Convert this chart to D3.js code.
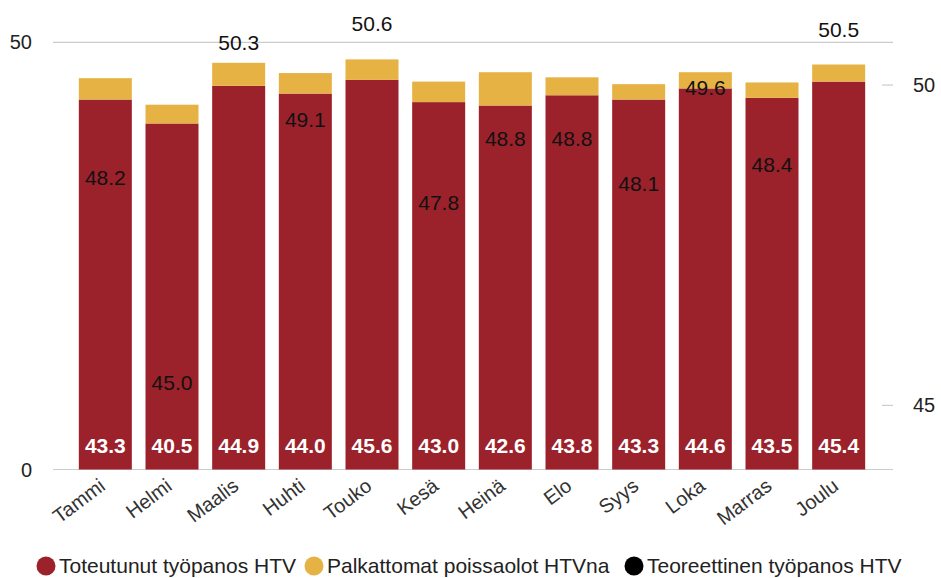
<!DOCTYPE html>
<html><head><meta charset="utf-8">
<script src="https://cdn.jsdelivr.net/npm/d3@7/dist/d3.min.js"></script>
<style>
html,body{margin:0;padding:0;background:#fff;}
svg{display:block;font-family:"Liberation Sans",Arial,sans-serif;}
</style></head>
<body>
<svg id="chart" width="941" height="578"></svg>
<script>
const months = ["Tammi","Helmi","Maalis","Huhti","Touko","Kesä","Heinä","Elo","Syys","Loka","Marras","Joulu"];
const toteutunut = [43.3,40.5,44.9,44.0,45.6,43.0,42.6,43.8,43.3,44.6,43.5,45.4];
const palkattomat = [2.5,2.2,2.7,2.4,2.4,2.4,3.9,2.1,1.8,1.9,1.8,2.0];
const teoreettinen = [48.2,45.0,50.3,49.1,50.6,47.8,48.8,48.8,48.1,49.6,48.4,50.5];
const leftTicks = [0,50];
const rightTicks = [45,50];
const seriesNames = ["Toteutunut työpanos HTV","Palkattomat poissaolot HTVna","Teoreettinen työpanos HTV"];
const colors = ["#9b212b","#e7b244","#000000"];

const svg = d3.select("#chart");
const plotL = 53, plotR = 893, yBottom = 469.5, yTop = 42.3;
const x = d3.scaleBand().domain(months).range([72, 872]).paddingInner(0.205).paddingOuter(0.1025);
const y = d3.scaleLinear().domain([0,50]).range([yBottom, yTop]);
const y2 = d3.scaleLinear().domain([44, 50.667]).range([yBottom, yTop]);

// gridlines (left axis)
svg.append("g").selectAll("line").data(leftTicks).join("line")
  .attr("x1", plotL).attr("x2", plotR)
  .attr("y1", d => y(d)).attr("y2", d => y(d))
  .attr("stroke", "#cccccc").attr("stroke-width", 1.2);

// left axis labels
svg.append("g").selectAll("text").data(leftTicks).join("text")
  .attr("x", 32).attr("y", d => y(d)).attr("dy", "0.35em")
  .attr("text-anchor", "end").attr("font-size", 20).attr("fill", "#222")
  .text(d => d);

// right axis
const ra = svg.append("g");
ra.selectAll("line").data(rightTicks).join("line")
  .attr("x1", 882).attr("x2", 893)
  .attr("y1", d => y2(d)).attr("y2", d => y2(d))
  .attr("stroke", "#cccccc").attr("stroke-width", 1.2);
ra.selectAll("text").data(rightTicks).join("text")
  .attr("x", 913).attr("y", d => y2(d)).attr("dy", "0.35em")
  .attr("text-anchor", "start").attr("font-size", 20).attr("fill", "#222")
  .text(d => d);

// stacked bars
const stackData = months.map((m,i) => ({m, a: toteutunut[i], b: palkattomat[i]}));
const stack = d3.stack().keys(["a","b"])(stackData);
svg.append("g").selectAll("g").data(stack).join("g")
  .attr("fill", (d,i) => colors[i])
  .selectAll("rect").data(d => d).join("rect")
  .attr("x", d => x(d.data.m)).attr("width", x.bandwidth())
  .attr("y", d => y(d[1])).attr("height", d => y(d[0]) - y(d[1]));

// white labels at bar bottoms
svg.append("g").selectAll("text").data(stackData).join("text")
  .attr("x", d => x(d.m) + x.bandwidth()/2).attr("y", yBottom - 24)
  .attr("dy", "0.35em").attr("text-anchor", "middle")
  .attr("font-size", 21).attr("font-weight", "bold").attr("fill", "#fff")
  .text(d => d.a.toFixed(1));

// theoretical series labels (right axis)
svg.append("g").selectAll("text").data(teoreettinen).join("text")
  .attr("x", (d,i) => x(months[i]) + x.bandwidth()/2).attr("y", d => y2(d) - 23)
  .attr("dy", "0.35em").attr("text-anchor", "middle")
  .attr("font-size", 21).attr("fill", "#111")
  .text(d => d.toFixed(1));

// x labels
svg.append("g").selectAll("text").data(months).join("text")
  .attr("transform", d => `translate(${x(d) + x.bandwidth()/2 - 3},483) rotate(-37)`)
  .attr("text-anchor", "end").attr("dy", "0.35em")
  .attr("font-size", 20).attr("fill", "#333")
  .text(d => d);

// legend
const legendX = [46, 314, 634];
const lg = svg.append("g").selectAll("g").data(seriesNames).join("g")
  .attr("transform", (d,i) => `translate(${legendX[i]},566)`);
lg.append("circle").attr("r", 9.5).attr("fill", (d,i) => colors[i]);
lg.append("text").attr("x", 13).attr("dy", "0.35em")
  .attr("font-size", 21).attr("fill", "#222").text(d => d);
</script>
</body></html>
